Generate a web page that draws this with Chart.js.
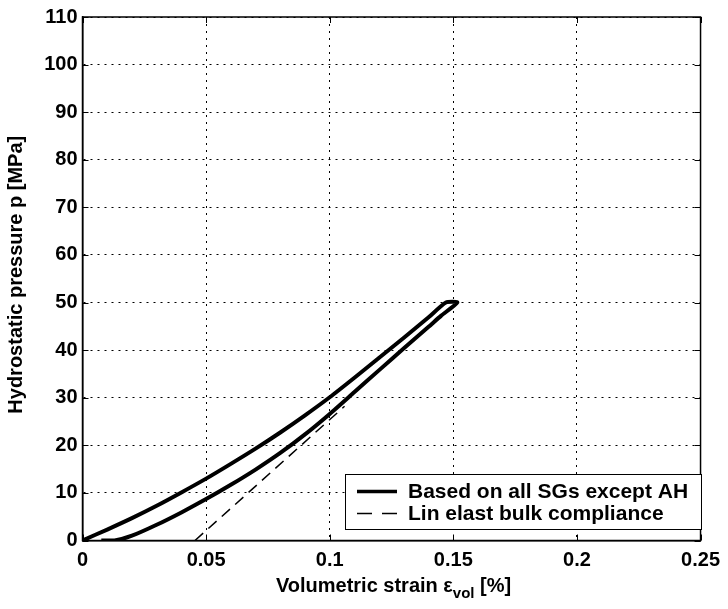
<!DOCTYPE html>
<html>
<head>
<meta charset="utf-8">
<script src="https://cdn.jsdelivr.net/npm/chart.js@4.4.1/dist/chart.umd.min.js"></script>
<style>
html,body{margin:0;padding:0;background:#fff;}
canvas{display:block;}
</style>
</head>
<body>
<canvas id="c" width="728" height="609"></canvas>
<script>
// ---- data ----
const loadStrain   = [0, 0.01, 0.02, 0.03, 0.04, 0.05, 0.06, 0.07, 0.08, 0.09, 0.10, 0.11, 0.12, 0.13, 0.14, 0.147];
const loadPressure = [0, 2.3, 4.7, 7.3, 10.1, 13.0, 16.1, 19.3, 22.7, 26.3, 30.1, 34.2, 38.4, 42.6, 46.9, 50.0];
const unloadStrain   = [0.1516, 0.145, 0.14, 0.13, 0.12, 0.11, 0.10, 0.09, 0.08, 0.07, 0.06, 0.05, 0.04, 0.03, 0.02, 0.013, 0.0076];
const unloadPressure = [50.0, 47.2, 44.9, 40.4, 35.8, 31.2, 26.6, 22.3, 18.4, 14.9, 11.7, 8.7, 5.9, 3.3, 1.0, 0, 0];
const linStrain   = [0.0455, 0.106];
const linPressure = [0, 28.2];
const xTicks = [0, 0.05, 0.1, 0.15, 0.2, 0.25];
const xTickLabels = ['0', '0.05', '0.1', '0.15', '0.2', '0.25'];
const yTicks = [0, 10, 20, 30, 40, 50, 60, 70, 80, 90, 100, 110];
const yTickLabels = ['0', '10', '20', '30', '40', '50', '60', '70', '80', '90', '100', '110'];
const seriesLabels = ['Based on all SGs except AH', 'Lin elast bulk compliance'];
const xTitle = ['Volumetric strain \u03b5', 'vol', ' [%]'];
const yTitle = 'Hydrostatic pressure p [MPa]';

const FONT = '"Liberation Sans", Arial, Helvetica, sans-serif';
const pts = (xs, ys) => xs.map((x, i) => ({x: x, y: ys[i]}));

const curveData = pts(loadStrain, loadPressure).concat(pts(unloadStrain, unloadPressure));
const linData = pts(linStrain, linPressure);

const decor = {
  id: 'decor',
  afterDraw(chart) {
    const ctx = chart.ctx;
    const a = chart.chartArea;
    const xs = chart.scales.x, ys = chart.scales.y;
    ctx.save();
    // inward tick marks on all four sides
    ctx.strokeStyle = '#000';
    ctx.lineWidth = 1;
    const tl = 6;
    ctx.beginPath();
    xTicks.forEach(v => {
      const px = Math.round(xs.getPixelForValue(v)) + 0.5;
      ctx.moveTo(px, a.bottom); ctx.lineTo(px, a.bottom - tl);
      ctx.moveTo(px, a.top); ctx.lineTo(px, a.top + tl);
    });
    yTicks.forEach(v => {
      const py = Math.round(ys.getPixelForValue(v)) + 0.5;
      ctx.moveTo(a.left, py); ctx.lineTo(a.left + tl, py);
      ctx.moveTo(a.right, py); ctx.lineTo(a.right - tl, py);
    });
    ctx.stroke();
    // box
    ctx.lineWidth = 1.5;
    ctx.strokeRect(a.left, a.top, a.right - a.left, a.bottom - a.top);

    // legend
    const lx = 345.5, ly = 474.5, lw = 356, lh = 55;
    ctx.fillStyle = '#fff';
    ctx.fillRect(lx, ly, lw, lh);
    ctx.lineWidth = 1;
    ctx.strokeStyle = '#000';
    ctx.strokeRect(lx, ly, lw, lh);
    const ds = chart.data.datasets;
    const rows = [491.5, 513.5];
    ds.forEach((d, i) => {
      ctx.beginPath();
      ctx.lineWidth = i === 0 ? 3.5 : 1.5;
      ctx.setLineDash(i === 0 ? [] : [15, 10]);
      ctx.moveTo(357, rows[i]); ctx.lineTo(397, rows[i]);
      ctx.stroke();
      ctx.setLineDash([]);
      ctx.fillStyle = '#000';
      ctx.font = 'bold 21px ' + FONT;
      ctx.textAlign = 'left';
      ctx.textBaseline = 'middle';
      ctx.fillText(d.label, 408, rows[i] + 1);
    });

    // x title with subscript
    ctx.fillStyle = '#000';
    ctx.textBaseline = 'alphabetic';
    ctx.textAlign = 'left';
    const big = 'bold 20px ' + FONT, small = 'bold 15px ' + FONT;
    ctx.font = big; const w0 = ctx.measureText(xTitle[0]).width;
    ctx.font = small; const w1 = ctx.measureText(xTitle[1]).width;
    ctx.font = big; const w2 = ctx.measureText(xTitle[2]).width;
    let sx = (a.left + a.right) / 2 - (w0 + w1 + w2) / 2 + 2;
    const base = 592;
    ctx.font = big; ctx.fillText(xTitle[0], sx, base); sx += w0;
    ctx.font = small; ctx.fillText(xTitle[1], sx, base + 6); sx += w1;
    ctx.font = big; ctx.fillText(xTitle[2], sx, base);

    // y title
    ctx.translate(22, (a.top + a.bottom) / 2 - 4);
    ctx.rotate(-Math.PI / 2);
    ctx.textAlign = 'center';
    ctx.font = big;
    ctx.fillText(yTitle, 0, 0);
    ctx.restore();
  }
};

new Chart(document.getElementById('c'), {
  type: 'scatter',
  data: {
    datasets: [
      {label: seriesLabels[0], data: curveData, showLine: true, borderColor: '#000', backgroundColor: '#000',
       borderWidth: 4, pointRadius: 0, tension: 0.2, borderJoinStyle: 'round', borderCapStyle: 'butt', fill: false},
      {label: seriesLabels[1], data: linData, showLine: true, borderColor: '#000', backgroundColor: '#000',
       borderWidth: 1.5, borderDash: [11, 7], pointRadius: 0, fill: false}
    ]
  },
  options: {
    responsive: false,
    animation: false,
    events: [],
    layout: {padding: {top: 13, right: 24.7, left: 0, bottom: 0}},
    plugins: {legend: {display: false}, tooltip: {enabled: false}, title: {display: false}},
    scales: {
      x: {
        type: 'linear', min: 0, max: 0.25,
        afterBuildTicks: s => { s.ticks = xTicks.map(v => ({value: v})); },
        afterFit: s => { s.height = 609 - 540.5; },
        ticks: {
          callback: (v, i) => xTickLabels[i],
          color: '#000', font: {family: FONT, size: 20, weight: 'bold'}, padding: 8, maxRotation: 0, autoSkip: false
        },
        grid: {color: '#000', lineWidth: 1, drawTicks: false, tickLength: 0},
        border: {display: true, color: '#000', width: 1.5, dash: [2, 5]}
      },
      y: {
        type: 'linear', min: 0, max: 110,
        afterBuildTicks: s => { s.ticks = yTicks.map(v => ({value: v})); },
        afterFit: s => { s.width = 82.5; },
        ticks: {
          callback: (v, i) => yTickLabels[i],
          color: '#000', font: {family: FONT, size: 20, weight: 'bold'}, padding: 5, autoSkip: false
        },
        grid: {color: '#000', lineWidth: 1, drawTicks: false, tickLength: 0},
        border: {display: true, color: '#000', width: 1.5, dash: [2, 5]}
      }
    }
  },
  plugins: [decor]
});
</script>
</body>
</html>
